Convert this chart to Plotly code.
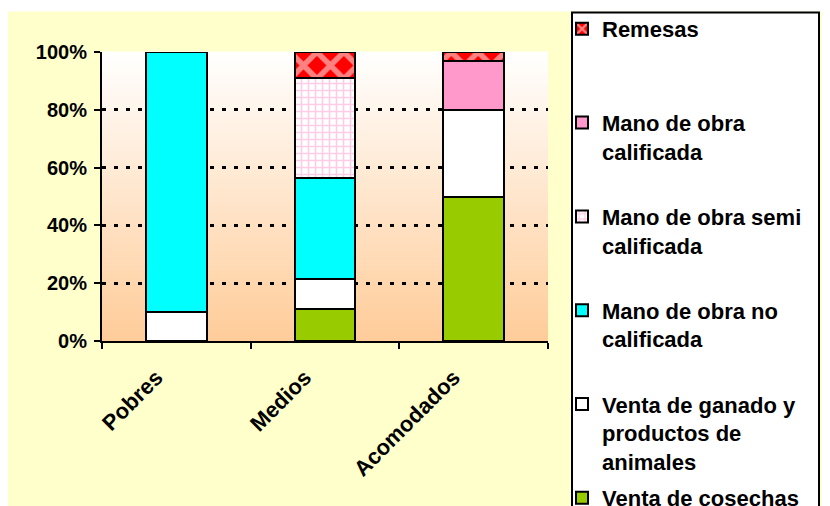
import plotly.graph_objects as go

categories = ["Pobres", "Medios", "Acomodados"]
venta_cosechas = [0, 11, 50]
venta_ganado = [10, 10.5, 30]
mo_no_calificada = [90, 35, 0]
mo_semi_calificada = [0, 34.5, 0]
mo_calificada = [0, 0, 17]
remesas = [0, 9, 3]

series_names = [
    "Venta de cosechas",
    "Venta de ganado y<br>productos de<br>animales",
    "Mano de obra no<br>calificada<br> ",
    "Mano de obra semi<br>calificada<br> ",
    "Mano de obra<br>calificada<br> ",
    "Remesas<br> <br> ",
]
series_values = [venta_cosechas, venta_ganado, mo_no_calificada,
                 mo_semi_calificada, mo_calificada, remesas]
colors = ["#99CC00", "#FFFFFF", "#00FFFF", "#FFFFFF", "#FF99CC", "#FF0000"]
patterns = [
    dict(),
    dict(),
    dict(),
    dict(shape="+", fgcolor="#FF99CC", bgcolor="#FFFFFF", size=7, solidity=0.4),
    dict(),
    dict(shape="x", fgcolor="#FFFFFF", bgcolor="#FF0000", size=19, solidity=0.5),
]

fig = go.Figure()
n = len(series_names)
for i, (name, vals, col, pat) in enumerate(zip(series_names, series_values, colors, patterns)):
    fig.add_trace(go.Bar(
        x=categories, y=vals, name=name,
        marker=dict(color=col, line=dict(color="black", width=2), pattern=pat),
        legendgroup=f"g{i}", legendrank=n - i,
    ))

# page has an 8px body margin: figure sits at screen (8, 8)
W, H = 822, 498
PX0, PX1, PY0, PY1 = 102, 548, 49, 341   # plot area in screen pixels
L, T = PX0 - 8, PY0 - 8
R = 830 - PX1
B = 506 - PY1
pw, ph = PX1 - PX0, PY1 - PY0

def sx(px):
    return (px - PX0) / pw

def sy(py):
    return (PY1 - py) / ph

shapes = []
shapes.append(dict(type="rect", xref="paper", yref="paper",
                   x0=sx(6), x1=sx(826), y0=sy(520), y1=sy(8),
                   fillcolor="#FFFFCC", line=dict(width=0), layer="below"))
N = 73
top = (255, 255, 255)
bot = (255, 204, 153)
for k in range(N):
    t = (k + 0.5) / N
    c = tuple(round(bot[j] + (top[j] - bot[j]) * t) for j in range(3))
    shapes.append(dict(type="rect", xref="paper", yref="paper",
                       x0=0, x1=1, y0=k / N, y1=(k + 1) / N + 0.002,
                       fillcolor=f"rgb{c}", line=dict(width=0), layer="below"))
shapes.append(dict(type="rect", xref="paper", yref="paper",
                   x0=sx(572), x1=sx(819), y0=sy(520), y1=sy(9),
                   fillcolor="#FFFFFF", line=dict(color="black", width=2), layer="below"))

fig.update_layout(
    width=W, height=H,
    margin=dict(l=L, r=R, t=T, b=B, pad=0),
    paper_bgcolor="#FFFFFF",
    plot_bgcolor="rgba(0,0,0,0)",
    barmode="stack",
    bargap=0.59,
    shapes=shapes,
    font=dict(family="Liberation Sans, Arial", color="black"),
    showlegend=True,
    legend=dict(
        x=sx(562), xanchor="left",
        y=sy(17), yanchor="top",
        bgcolor="rgba(0,0,0,0)",
        font=dict(size=22, family="Liberation Sans, Arial", weight="bold"),
        traceorder="grouped",
        tracegroupgap=5,
        valign="top",
        maxheight=1200,
    ),
)
fig.update_xaxes(
    showline=True, linecolor="black", linewidth=2,
    ticks="outside", tickson="boundaries", ticklen=6, tickwidth=2, tickcolor="black",
    tickangle=-45,
    tickfont=dict(size=22, weight="bold"),
    ticklabelstandoff=13, ticklabelshift=-20,
    showgrid=False,
)
fig.update_yaxes(
    range=[0, 100],
    tickvals=[0, 20, 40, 60, 80, 100],
    ticktext=["0%", "20%", "40%", "60%", "80%", "100%"],
    showline=True, linecolor="black", linewidth=2,
    ticks="outside", ticklen=6, tickwidth=2, tickcolor="black",
    tickfont=dict(size=20, weight="bold"),
    ticklabelstandoff=3,
    showgrid=True, gridcolor="black", gridwidth=3, griddash="4px,8px",
    zeroline=False,
)

fig.write_html("out.html")
